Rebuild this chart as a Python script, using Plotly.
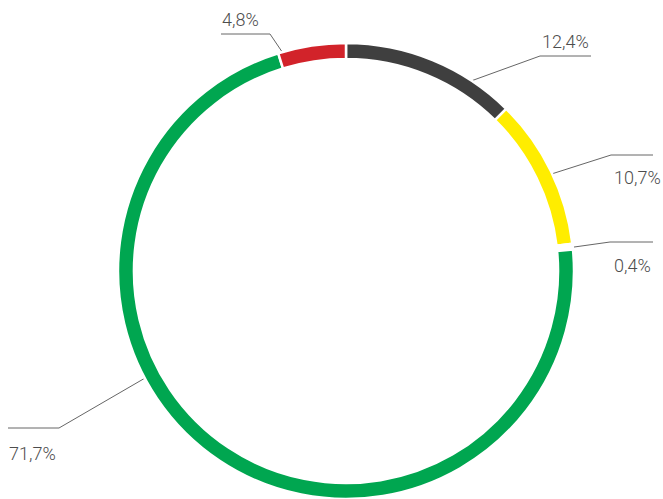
import numpy as np
import plotly.graph_objs as go

# slice data, clockwise from 12 o'clock
labels = ["Dark", "Yellow", "White", "Green", "Red"]
values = [12.4, 10.7, 0.4, 71.7, 4.8]
value_text = ["12,4%", "10,7%", "0,4%", "71,7%", "4,8%"]
colors = ["#3f3f3f", "#ffed00", "#ffffff", "#00a650", "#d2232a"]

# where along each slice the leader line leaves the ring (0 = slice start, 1 = end)
anchor_frac = [0.75, 0.52, 0.5, 0.61, 0.06]
# leader elbow / end and label placement, in pixels of the 663x499 window
elbow = [(540, 56), (611, 155), (610, 242), (59, 428), (270, 34)]
line_end = [591, 653, 653, 8, 221]
text_pos = [(591, 41, "right"), (612, 177, "left"), (612, 265, "left"),
            (7, 453, "left"), (220, 19, "left")]

W, H = 663, 499
CX, CY, R = 346, 271.5, 228.5

fig = go.Figure()

fig.add_trace(go.Pie(
    labels=labels, values=values, sort=False, direction="clockwise",
    rotation=0, hole=0.93, textinfo="none", hoverinfo="label+percent",
    marker=dict(colors=colors, line=dict(color="white", width=2.5)),
    domain=dict(x=[(CX - R) / W, (CX + R) / W],
                y=[max(0, 1 - (CY + R) / H), 1 - (CY - R) / H]),
    showlegend=False,
))

# leader lines, anchored on the ring at an angle taken from the data
total = sum(values)
start = 0.0
for i, v in enumerate(values):
    ang = np.radians(360 * (start + anchor_frac[i] * v) / total)
    start += v
    x0 = CX + (R + 0.5) * np.sin(ang)
    y0 = CY - (R + 0.5) * np.cos(ang)
    ex, ey = elbow[i]
    fig.add_trace(go.Scatter(
        x=[x0, ex, line_end[i]], y=[y0, ey, ey], mode="lines",
        line=dict(color="#666666", width=1), hoverinfo="skip",
        showlegend=False, cliponaxis=False,
    ))
    tx, ty, anc = text_pos[i]
    fig.add_annotation(
        x=tx, y=ty, text=value_text[i], showarrow=False,
        xanchor=anc, yanchor="middle",
        font=dict(family="Roboto", size=18, color="#4d4d4d", weight=300),
    )

fig.update_xaxes(range=[0, W], visible=False, fixedrange=True)
fig.update_yaxes(range=[H, 0], visible=False, fixedrange=True)

fig.update_layout(
    width=W, height=H, margin=dict(l=0, r=0, t=0, b=0),
    paper_bgcolor="white", plot_bgcolor="rgba(0,0,0,0)",
)

# drop the page's default 8px body margin so the figure fills the window
fig.write_html("out.html", config={"displayModeBar": False},
               post_script="document.body.style.margin='0';")
